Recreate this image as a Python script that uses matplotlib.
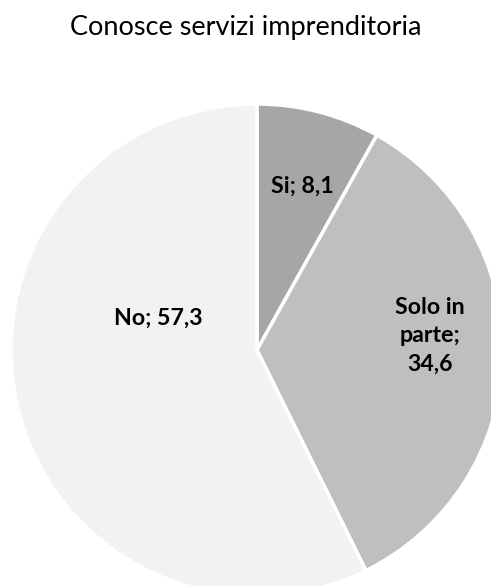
import matplotlib.pyplot as plt

categories = ["Si", "Solo in parte", "No"]
values = [8.1, 34.6, 57.3]
label_texts = ["Si; 8,1", "Solo in\nparte;\n34,6", "No; 57,3"]

colors = ["#a6a6a6", "#bfbfbf", "#f2f2f2"]
# label anchor (centre x, baseline of last line) in px of the reference image
label_px = [(302, 193), (430, 371), (158, 325)]

W, H = 491, 586
fig = plt.figure(figsize=(W / 100, H / 100), dpi=100)

# pie centre at (257, 350) px, radius 246 px; the pie runs past the right/bottom edges
cx, cy, r = 257, 350, 246
ax = fig.add_axes([(cx - r) / W, (H - cy - r) / H, 2 * r / W, 2 * r / H])
ax.pie(
    values,
    colors=colors,
    startangle=90,
    counterclock=False,
    radius=1,
    wedgeprops={"edgecolor": "white", "linewidth": 2.5},
)
ax.set_xlim(-1, 1)
ax.set_ylim(-1, 1)
ax.set_aspect("equal")
ax.axis("off")

for text, (px, py) in zip(label_texts, label_px):
    fig.text(px / W, 1 - py / H, text, ha="center", va="baseline",
             fontsize=16.7, fontweight="bold", family="Lato",
             color="#000000", linespacing=1.45, multialignment="center")

fig.text(0.5, 1 - 35 / H, "Conosce servizi imprenditoria", ha="center",
         va="baseline", fontsize=19.5, family="Lato", color="#000000")

fig.savefig("out.png", dpi=100)
